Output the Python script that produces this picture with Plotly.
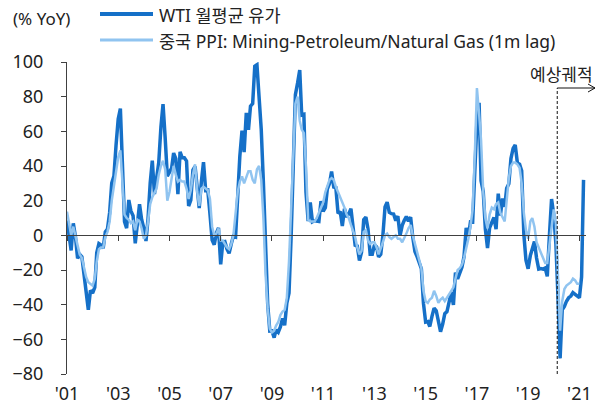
import pandas as pd
import plotly.graph_objects as go

# ---------------- data ----------------
months = pd.date_range("2001-01-01", "2021-03-01", freq="MS")

wti_2001_2010 = [
    8.5, 0.8, -8.7, 6.9, -0.6, -13.3, -11.0, -12.4, -22.7, -33.0, -42.9, -31.8,
    -33.4, -30.0, -10.0, -4.8, -5.6, -7.5, 2.0, 3.7, 13.2, 30.1, 34.2, 51.9,
    67.1, 73.1, 36.8, 7.9, 4.1, 20.4, 14.1, 11.3, -4.6, 5.2, 18.0, 9.1,
    4.2, -3.3, 9.5, 30.1, 43.1, 23.8, 32.6, 42.1, 62.4, 75.7, 55.9, 34.2,
    36.5, 38.8, 47.5, 44.2, 23.7, 48.2, 44.7, 44.7, 42.8, 16.9, 20.3, 37.7,
    39.8, 28.0, 15.7, 31.1, 42.2, 25.9, 26.1, 12.4, -2.7, -5.4, 1.3, 4.3,
    -16.8, -3.8, -3.6, -7.9, -10.4, -4.9, -0.4, -0.9, 25.3, 45.7, 60.4, 48.0,
    70.6, 60.9, 74.5, 76.0, 97.6, 98.4, 79.9, 61.2, 30.3, -10.7, -39.5, -55.2,
    -55.1, -59.0, -54.5, -55.9, -52.9, -48.0, -51.9, -39.1, -33.3, -1.2, 36.1, 81.1,
    87.8, 95.4, 69.4, 69.8, 24.9, 8.2, 19.0, 7.8, 8.4, 8.1, 8.0, 19.7,
]
wti_2011_2021 = [
    13.8, 16.0, 26.7, 29.9, 36.8, 27.8, 27.5, 12.7, 13.7, 5.4, 15.3, 10.6,
    12.4, 15.4, 3.2, -5.7, -6.2, -14.5, -9.7, 9.0, 10.5, 3.7, -10.9, -10.9,
    -5.5, -6.7, -12.5, -10.9, -0.2, 16.4, 19.1, 13.2, 12.5, 12.3, 8.5, 11.1,
    -0.2, 5.8, 8.5, 10.9, 8.1, 10.5, -1.0, -9.4, -12.3, -16.1, -19.3, -39.3,
    -50.1, -49.8, -52.6, -46.7, -42.0, -43.5, -50.9, -55.6, -51.2, -45.2, -44.0, -37.3,
    -32.9, -40.1, -21.5, -25.2, -21.2, -18.5, -12.3, 4.3, -0.7, 7.7, 7.6, 39.7,
    65.7, 76.4, 31.4, 25.3, 3.8, -7.3, 4.4, 7.4, 10.3, 3.6, 24.0, 11.4,
    21.3, 16.4, 27.2, 29.7, 44.3, 50.2, 52.2, 41.7, 41.0, 37.2, 0.6, -14.4,
    -19.3, -11.7, -7.3, -3.6, -13.1, -19.5, -19.2, -19.5, -18.9, -23.7, 0.1, 20.9,
    12.0, -5.0, -35.0, -71.0, -43.0, -41.0, -38.0, -36.0, -35.0, -33.0, -34.0, -35.0,
    -36.0, -24.0, 32.0,
]
wti_yoy = wti_2001_2010 + wti_2011_2021

ppi_2001_2010 = [
    13.7, 5, 0, 5, -1, -5, -11, -13, -19, -24, -27, -28,
    -29, -25, -15, -8, -7, -7, -1, 2, 8, 20, 29, 37,
    45, 49, 31, 12, 10, 9, 7, 8, 3, 9, 8, 4,
    -2, 0, 8, 18, 22, 25, 27, 35, 40, 43, 38, 20,
    25, 33, 40, 35, 31, 32, 31, 31, 27, 21, 26, 35,
    41, 25, 17, 27, 28, 27, 26, 21, 5, 0, 1, 4,
    -3, -3, -5, -7, -8, -5, 0, 12, 25, 31, 34, 30,
    33, 37, 37, 32, 30, 38, 40, 32, 10, -22, -42, -54,
    -56, -55, -52, -50, -46, -44, -43, -36, -15, 18, 46, 76,
    80, 66, 61, 59, 40, 9, 8, 8, 8, 10, 13, 16,
]
ppi_2011_2021 = [
    19, 25, 29, 32, 33, 32, 28, 25, 21, 18, 16, 12,
    10, 6, 2, -1, -7, -11, -9, 2, 3, -3, -5, -4,
    -4, -7, -11, -8, -4, 0, 1, -1, -2, -1, 0, -2,
    -2, -4, -2, 1, 4, 6, 0, -5, -10, -14, -19, -32,
    -38, -39, -37, -36, -32, -35, -39, -37, -36, -38, -36, -34,
    -32, -30, -25, -20, -19, -17, -13, -8, -2, 5, 15, 45,
    85, 70, 55, 25, 10, 4, 12, 16, 15, 18, 19, 13,
    10, 8, 20, 33, 40, 42, 42, 41, 39, 30, 13, 3,
    -2, 8, 10, 5, -4, -7, -10, -13, -16, -16, -5, 5,
    15, 7, -22, -55, -38, -31, -29, -28, -27, -25, -26, -28,
    -28,
]
ppi_yoy = ppi_2001_2010 + ppi_2011_2021

tick_dates = pd.date_range("2001-01-01", "2021-01-01", freq="2YS")
tick_labels = ["'01", "'03", "'05", "'07", "'09", "'11", "'13", "'15", "'17", "'19", "'21"]
y_ticks = [-80, -60, -40, -20, 0, 20, 40, 60, 80, 100]

wti_name = "WTI 월평균 유가"
ppi_name = "중국 PPI: Mining-Petroleum/Natural Gas (1m lag)"
forecast_start = pd.Timestamp("2020-02-20")
forecast_label = "예상궤적"

# ---------------- style ----------------
FONT = "Noto Sans, Noto Sans CJK KR, sans-serif"
DARK = "#1570C8"
LIGHT = "#90C4F0"
AXIS = "#404040"
TXT = "#222222"

x_range = [pd.Timestamp("2001-01-01"), pd.Timestamp("2021-04-05")]
W, H = 605, 407
ML, MT = 67, 62
MR, MB = W - 586, H - 374
PW, PH = W - ML - MR, H - MT - MB


def px_x(px):
    return (px - ML) / PW


def px_y(py):
    return (H - MB - py) / PH


def date_to_paper(d):
    return (d - x_range[0]) / (x_range[1] - x_range[0])


fig = go.Figure()
fig.add_trace(go.Scatter(
    x=months[:len(wti_yoy)], y=wti_yoy, mode="lines", name=wti_name,
    line=dict(color=DARK, width=3.5), showlegend=False, hoverinfo="skip",
))
fig.add_trace(go.Scatter(
    x=months[:len(ppi_yoy)], y=ppi_yoy, mode="lines", name=ppi_name,
    line=dict(color=LIGHT, width=2.5), showlegend=False, hoverinfo="skip",
))
# helper trace so the zero-line axis gets drawn
fig.add_trace(go.Scatter(x=[months[0]], y=[None], xaxis="x2", yaxis="y",
                         showlegend=False, hoverinfo="skip"))

fig.update_layout(
    width=W, height=H,
    margin=dict(l=ML, r=MR, t=MT, b=MB, autoexpand=False),
    paper_bgcolor="white", plot_bgcolor="white",
    font=dict(family=FONT, size=18, color=TXT),
    xaxis=dict(
        type="date", range=x_range, showgrid=False, zeroline=False,
        showline=False, ticks="", tickvals=tick_dates, ticktext=tick_labels,
        tickfont=dict(family=FONT, size=18, color=TXT), ticklabelstandoff=7,
        automargin=False,
    ),
    xaxis2=dict(
        type="date", range=x_range, overlaying="x", anchor="free",
        position=80 / 180, showgrid=False, zeroline=False,
        showline=True, linecolor=AXIS, linewidth=1,
        ticks="outside", ticklen=5, tickcolor=AXIS, tickwidth=1,
        tickvals=tick_dates, showticklabels=False, automargin=False,
    ),
    yaxis=dict(
        range=[-80, 100], tickvals=y_ticks, showgrid=False, zeroline=False,
        showline=True, linecolor=AXIS, linewidth=1,
        ticks="outside", ticklen=5, tickcolor=AXIS, tickwidth=1,
        tickfont=dict(family=FONT, size=18, color=TXT), ticklabelstandoff=14,
        automargin=False,
    ),
    showlegend=False,
)

# dashed forecast boundary
fig.add_shape(type="line", xref="x", yref="y", x0=forecast_start, x1=forecast_start,
              y0=-80, y1=85, line=dict(color="#111111", width=1, dash="3px,2px"))
# arrow to the right
xs = date_to_paper(forecast_start)
xe = px_x(595)
fig.add_shape(type="line", xref="paper", yref="y", x0=xs, x1=xe, y0=85, y1=85,
              line=dict(color="#111111", width=1))
fig.add_shape(type="path", xref="paper", yref="y", xsizemode="pixel", ysizemode="pixel",
              xanchor=xe, yanchor=85, path="M -7,4 L 0,0 L -7,-4",
              line=dict(color="#111111", width=1))
fig.add_annotation(text=forecast_label, xref="paper", yref="paper", x=xe, y=px_y(75),
                   xanchor="right", yanchor="middle", showarrow=False,
                   font=dict(family=FONT, size=17, color=TXT))

# manual legend
fig.add_annotation(text="(% YoY)", xref="paper", yref="paper", x=px_x(41), y=px_y(18),
                   xanchor="center", yanchor="middle", showarrow=False,
                   font=dict(family=FONT, size=17, color=TXT))
for name, color, width, py in [(wti_name, DARK, 4, 15), (ppi_name, LIGHT, 3, 41)]:
    fig.add_shape(type="line", xref="paper", yref="paper", x0=px_x(100), x1=px_x(153),
                  y0=px_y(py - 1), y1=px_y(py - 1), line=dict(color=color, width=width))
    fig.add_annotation(text=name, xref="paper", yref="paper", x=px_x(157), y=px_y(py),
                       xanchor="left", yanchor="middle", showarrow=False,
                       font=dict(family=FONT, size=17.5, color=TXT))

# remove the browser's default 8px page margin so the figure fills the window
fig.write_html("out.html", config={"displayModeBar": False},
               post_script="document.body.style.margin='0';")
